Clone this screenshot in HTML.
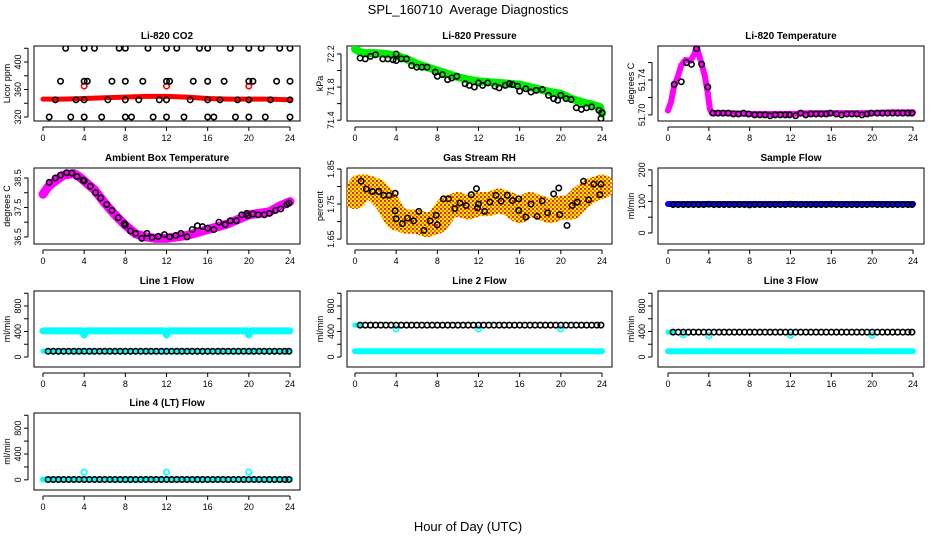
<!DOCTYPE html>
<html><head><meta charset="utf-8"><style>
html,body{margin:0;padding:0;background:#fff;}
svg{display:block;font-family:"Liberation Sans",sans-serif;}
</style></head><body>
<svg id="chart" width="936" height="540" viewBox="0 0 936 540">
<defs>
<pattern id="rhpat" width="4" height="4" patternUnits="userSpaceOnUse"><rect width="4" height="4" fill="#ffee00"/><rect width="2" height="2" fill="#f02000"/><rect x="2" y="2" width="2" height="2" fill="#f07000"/></pattern>
</defs>
<text x="468" y="14" text-anchor="middle" font-size="13" style="white-space:pre">SPL_160710  Average Diagnostics</text>
<text x="468" y="531" text-anchor="middle" font-size="13">Hour of Day (UTC)</text>
</svg>
<script>
// ---- data ----
const co2Hours=[0.6,1.2,1.7,2.2,2.7,3.2,4,4,4,4,4.3,5,5.7,6.3,6.7,7.4,8,8,8,8,8.6,9.3,9.7,10.2,10.7,11.3,12,12,12,12,12.3,13,13.7,14.3,14.6,15.2,16,16,16,16,16.6,17.2,17.6,18.2,18.7,18.9,20,20,20,20,20.4,21.2,21.6,22.1,22.7,23,24,24,24,24];
const co2Vals=[320,345,372,420,320,345,420,372,345,320,372,420,320,345,372,420,420,372,345,320,320,345,372,420,320,345,420,372,345,320,372,420,320,345,372,420,420,372,345,320,320,345,372,420,320,345,420,372,345,320,372,420,320,345,372,420,420,372,345,320];
const co2BandH=[0,2,4,6,8,10,12,14,16,18,20,22,24];
const co2BandV=[346,346,347,348,349,350,350,349,347,346,346,346,345];
const co2RedH=[4,12,20];
const co2RedV=[365,365,365];

const presBandH=[0,0.5,1,2,3,4,5,6,7,8,9,10,11,12,13,14,15,16,17,18,19,20,21,22,23,23.8,24];
const presBandV=[72.26,72.22,72.21,72.21,72.2,72.18,72.14,72.08,72.04,72.0,71.96,71.92,71.89,71.87,71.86,71.85,71.84,71.83,71.8,71.77,71.74,71.72,71.66,71.62,71.59,71.56,71.48];
const presH=[0.5,1,1.5,2,2.7,3.2,3.7,4,4,4.5,5,5.5,6,6.5,7,7.8,8,8.5,9,9.4,9.9,10.7,11.1,11.6,12,12.4,12.9,13.6,14,14.6,15,15.3,15.8,16,16.6,17.1,17.6,18.2,18.8,19.3,19.7,20,20.5,21,21.5,22,22.5,23,23.7,24,23.9];
const presV=[72.15,72.14,72.17,72.19,72.14,72.14,72.13,72.12,72.2,72.14,72.14,72.06,72.04,72.04,72.04,71.98,71.93,71.95,71.89,71.91,71.93,71.84,71.82,71.8,71.85,71.82,71.85,71.81,71.79,71.82,71.84,71.83,71.81,71.75,71.78,71.74,71.76,71.77,71.7,71.66,71.64,71.7,71.66,71.65,71.55,71.53,71.55,71.56,71.52,71.49,71.42];

const ltBandH=[0,0.3,0.6,1,1.3,1.7,2.2,2.6,2.8,3.3,3.6,3.9,4.1,4.3,6,8,10,12,14,16,18,20,22,24];
const ltBandV=[51.705,51.715,51.733,51.745,51.757,51.763,51.762,51.77,51.779,51.758,51.745,51.725,51.707,51.702,51.702,51.701,51.701,51.701,51.702,51.702,51.702,51.702,51.703,51.703];
const ltH=[0.6,1.3,1.8,2.3,2.8,3.3,3.9,4.4,4.9,5.4,5.9,6.4,6.9,7.4,7.9,8.5,9,9.5,10,10.5,11,11.5,11.9,12.5,13,13.5,14,14.5,15,15.5,15.9,16.5,17,17.5,18,18.5,19,19.5,19.9,20.5,21,21.5,22,22.5,23,23.5,23.9];
const ltV=[51.735,51.738,51.76,51.758,51.776,51.758,51.732,51.702,51.702,51.702,51.702,51.701,51.701,51.702,51.701,51.700,51.700,51.700,51.699,51.700,51.700,51.700,51.700,51.699,51.702,51.700,51.701,51.701,51.701,51.701,51.702,51.701,51.700,51.701,51.701,51.701,51.700,51.701,51.702,51.702,51.702,51.702,51.702,51.702,51.702,51.702,51.702];

const ambBandH=[0,0.5,1,2,3,3.5,4,5,6,7,8,9,10,11,12,13,14,15,16,17,18,19,20,21,22,23,24];
const ambBandV=[37.95,38.2,38.35,38.6,38.65,38.55,38.4,38.1,37.65,37.25,36.9,36.6,36.5,36.45,36.45,36.5,36.55,36.65,36.75,36.85,36.95,37.1,37.25,37.3,37.35,37.55,37.7];
const ambH=[0.6,1.2,1.7,2.3,2.8,3.3,3.9,4.0,4.6,5.1,5.6,6.2,6.7,7.3,7.9,8.0,8.5,9.0,9.6,10.1,10.6,11.2,11.8,12.3,12.9,13.4,14.0,14.5,15.0,15.5,16.0,16.6,17.1,17.7,18.2,18.8,19.3,19.8,19.9,20.4,20.9,21.5,22.0,22.6,23.1,23.7,23.9];
const ambV=[38.35,38.5,38.6,38.68,38.67,38.55,38.43,38.4,38.22,38.0,37.82,37.6,37.4,37.15,36.95,36.9,36.7,36.62,36.45,36.62,36.48,36.52,36.58,36.5,36.55,36.62,36.5,36.75,36.88,36.85,36.8,36.75,37.0,36.92,37.05,37.05,37.25,37.3,37.22,37.28,37.25,37.25,37.3,37.4,37.45,37.6,37.65];

const rhBandH=[0,0.5,1,2,3,4,5,6,7,8,9,10,11,12,13,14,15,16,17,18,19,20,21,22,23,24];
const rhBandV=[1.77,1.8,1.8,1.79,1.76,1.71,1.7,1.7,1.69,1.7,1.74,1.75,1.74,1.75,1.75,1.76,1.75,1.73,1.75,1.74,1.73,1.74,1.74,1.77,1.79,1.8];
const rhH=[0.6,1.1,1.7,2.3,2.8,3.3,3.9,3.9,4.0,4.6,5.1,5.7,6.2,6.7,7.3,7.9,8.0,8.6,9.1,9.7,10.2,10.8,11.3,11.8,11.9,12.0,12.6,13.1,13.7,14.2,14.8,15.3,15.9,15.9,16.6,17.1,17.7,18.2,18.7,19.3,19.8,19.9,20.6,21.1,21.6,22.2,22.7,23.2,23.8,23.9];
const rhV=[1.815,1.793,1.786,1.786,1.775,1.775,1.781,1.731,1.708,1.694,1.71,1.702,1.729,1.675,1.702,1.718,1.691,1.765,1.765,1.737,1.753,1.746,1.777,1.794,1.739,1.75,1.729,1.756,1.775,1.758,1.775,1.76,1.765,1.732,1.713,1.75,1.715,1.759,1.725,1.779,1.796,1.72,1.689,1.746,1.756,1.815,1.762,1.807,1.777,1.807];

const flowH=[0.5,1,1.5,2,2.5,3,3.5,4,4.5,5,5.5,6,6.5,7,7.5,8,8.5,9,9.5,10,10.5,11,11.5,12,12.5,13,13.5,14,14.5,15,15.5,16,16.5,17,17.5,18,18.5,19,19.5,20,20.5,21,21.5,22,22.5,23,23.5,23.9];
const sampleFlow=[90,90,90,90,90,90,90,91,90,90,90,90,90,90,90,89,90,90,90,90,90,90,90,91,90,90,90,90,90,90,90,91,90,90,90,90,90,90,90,91,90,90,90,90,90,90,90,90];
const sampleBandH=[0,24];
const sampleBandV=[92,92];

const line1Black=flowH.map(()=>90);
const line1CyanH=[0,3.8,4,4.2,11.8,12,12.2,19.8,20,20.2,24];
const line1CyanV=[410,410,345,410,410,345,410,410,345,410,410];
const line1CyanLowH=[0,24];
const line1CyanLowV=[90,90];

const line2Black=flowH.map(()=>500);
const line2CyanH=[0,24];
const line2CyanV=[90,90];
const line2CyanHiH=[0,0.6];
const line2CyanHiV=[500,500];
const line2Blips=[[4,12,20],[440,440,440]];

const line3Black=flowH.map(()=>390);
const line3CyanH=[0,24];
const line3CyanV=[90,90];
const line3CyanHiH=[0,0.6];
const line3CyanHiV=[390,390];
const line3Blips=[[1.5,4,12,20],[350,330,340,340]];

const line4Black=flowH.map(()=>5);
const line4CyanH=[0,24];
const line4CyanV=[5,5];
const line4Blips=[[4,12,20],[120,120,120]];

const xTicks=[0,4,8,12,16,20,24];

// ---- layout ----
const svg=document.getElementById('chart');
const NS='http://www.w3.org/2000/svg';
const cols=[{l:34,r:300,x0:43,x24:290},{l:347,r:612,x0:355,x24:602},{l:658,r:924,x0:668,x24:913}];
const rows=[{t:46,b:121},{t:168,b:244},{t:291,b:367},{t:413,b:490}];
function mk(tag,attrs,parent){const e=document.createElementNS(NS,tag);for(const k in attrs)e.setAttribute(k,attrs[k]);(parent||svg).appendChild(e);return e;}

function panel(ci,ri,name,title,ylab,ymin,ymax,ticks,labels){
  const c=cols[ci],r=rows[ri];
  const g=mk('g',{});
  
  
  const X=h=>c.x0+(c.x24-c.x0)*h/24;
  const Y=v=>r.b-(v-ymin)/(ymax-ymin)*(r.b-r.t);
  const box=mk('rect',{x:c.l,y:r.t,width:c.r-c.l,height:r.b-r.t,fill:'none',stroke:'#000','stroke-width':1},g);
  
  
  const t=mk('text',{x:(c.l+c.r)/2,y:r.t-7,'text-anchor':'middle','font-size':10,'font-weight':'bold'},g);
  t.textContent=title;
  
  
  const yl=mk('text',{transform:`translate(${c.l-24},${(r.t+r.b)/2}) rotate(-90)`,'text-anchor':'middle','font-size':9},g);
  yl.textContent=ylab;
  
  
  const xa=mk('g',{},g);
  
  
  mk('line',{x1:X(0),x2:X(24),y1:r.b+6,y2:r.b+6,stroke:'#000'},xa);
  xTicks.forEach(h=>{
    mk('line',{x1:X(h),x2:X(h),y1:r.b+6,y2:r.b+10,stroke:'#000'},xa);
    const tl=mk('text',{x:X(h),y:r.b+20,'text-anchor':'middle','font-size':9},xa);
    tl.textContent=h;
  });
  const ya=mk('g',{},g);
  
  
  mk('line',{x1:c.l-6,x2:c.l-6,y1:Y(ticks[0]),y2:Y(ticks[ticks.length-1]),stroke:'#000'},ya);
  ticks.forEach(v=>{mk('line',{x1:c.l-10,x2:c.l-6,y1:Y(v),y2:Y(v),stroke:'#000'},ya);});
  labels.forEach(v=>{
    const tl=mk('text',{transform:`translate(${c.l-13},${Y(v)}) rotate(-90)`,'text-anchor':'middle','font-size':9},ya);
    tl.textContent=v;
  });
  const clip='clip'+name;
  const cp=mk('clipPath',{id:clip},g);mk('rect',{x:c.l,y:r.t,width:c.r-c.l,height:r.b-r.t},cp);
  const data=mk('g',{'clip-path':`url(#${clip})`},g);
  return {X,Y,g:data};
}
function band(p,hs,vs,color,w,name){
  const pl=mk('polyline',{points:hs.map((h,i)=>p.X(h)+','+p.Y(vs[i])).join(' '),fill:'none',stroke:color,'stroke-width':w,'stroke-linejoin':'round','stroke-linecap':'round'},p.g);
  
  
}
function pts(p,hs,vs,color,name){
  const g=mk('g',{},p.g);
  
  
  hs.forEach((h,i)=>{mk('circle',{cx:p.X(h),cy:p.Y(vs[i]),r:2.7,fill:'none',stroke:color,'stroke-width':1.6},g);});
}

// CO2
let p=panel(0,0,'co2','Li-820 CO2','Licor ppm',314.2,423.3,[320,340,360,380,400,420],[320,360,400]);
band(p,co2BandH,co2BandV,'#ff0000',5,'co2-band');
pts(p,co2RedH,co2RedV,'#ff0000','co2-red-points');
pts(p,co2Hours,co2Vals,'#000','co2-points');
// Pressure
p=panel(1,0,'pressure','Li-820 Pressure','kPa',71.39,72.296,[71.4,71.6,71.8,72.0,72.2],[71.4,71.8,72.2]);
band(p,presBandH,presBandV,'#00ee00',8,'pressure-band');
pts(p,presH,presV,'#000','pressure-points');
// Li temp
p=panel(2,0,'li-temp','Li-820 Temperature','degrees C',51.693,51.779,[51.70,51.72,51.74,51.76],['51.70','51.74']);
band(p,ltBandH,ltBandV,'#ff00ff',6,'li-temp-band');
pts(p,ltH,ltV,'#000','li-temp-points');
// Ambient
p=panel(0,1,'ambient','Ambient Box Temperature','degrees C',36.26,38.84,[36.5,37,37.5,38,38.5],['36.5','37.5','38.5']);
band(p,ambBandH,ambBandV,'#ff00ff',9,'ambient-band');
pts(p,ambH,ambV,'#000','ambient-points');
// RH
p=panel(1,1,'rh','Gas Stream RH','percent',1.636,1.853,[1.65,1.7,1.75,1.8,1.85],['1.65','1.75','1.85']);
band(p,rhBandH,rhBandV,'url(#rhpat)',24,'rh-band');
pts(p,rhH,rhV,'#000','rh-points');
// Sample flow
p=panel(2,1,'sample-flow','Sample Flow','ml/min',-35,206,[0,50,100,150,200],[0,100,200]);
band(p,sampleBandH,sampleBandV,'#0000ff',6,'sample-flow-band');
pts(p,flowH,sampleFlow,'#000','sample-flow-points');
// Line 1
const fT=[0,200,400,600,800,1000],fL=[0,400,800];
p=panel(0,2,'line1','Line 1 Flow','ml/min',-157,1035,fT,fL);
band(p,line1CyanH,line1CyanV,'#00ffff',7,'line1-cyan-band');
band(p,line1CyanLowH,line1CyanLowV,'#00ffff',5,'line1-cyan-low');
pts(p,flowH,line1Black,'#000','line1-points');
// Line 2
p=panel(1,2,'line2','Line 2 Flow','ml/min',-157,1035,fT,fL);
band(p,line2CyanH,line2CyanV,'#00ffff',6,'line2-cyan-band');
band(p,line2CyanHiH,line2CyanHiV,'#00ffff',5,'line2-cyan-high');
pts(p,line2Blips[0],line2Blips[1],'#00ffff','line2-cyan-points');
pts(p,flowH,line2Black,'#000','line2-points');
// Line 3
p=panel(2,2,'line3','Line 3 Flow','ml/min',-157,1035,fT,fL);
band(p,line3CyanH,line3CyanV,'#00ffff',6,'line3-cyan-band');
band(p,line3CyanHiH,line3CyanHiV,'#00ffff',5,'line3-cyan-high');
pts(p,line3Blips[0],line3Blips[1],'#00ffff','line3-cyan-points');
pts(p,flowH,line3Black,'#000','line3-points');
// Line 4
p=panel(0,3,'line4','Line 4 (LT) Flow','ml/min',-157,1035,fT,fL);
band(p,line4CyanH,line4CyanV,'#00ffff',6,'line4-cyan-band');
pts(p,line4Blips[0],line4Blips[1],'#00ffff','line4-cyan-points');
pts(p,flowH,line4Black,'#000','line4-points');
</script>
</body></html>
